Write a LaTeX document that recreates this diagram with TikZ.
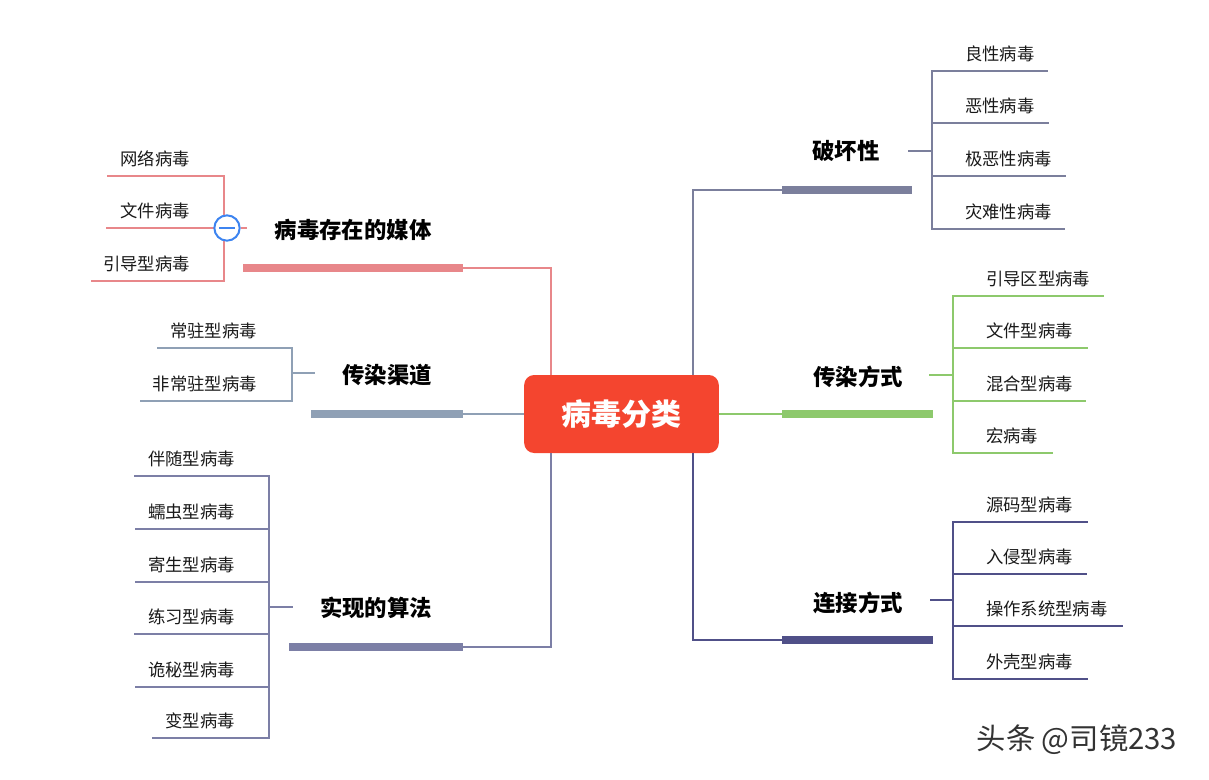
\documentclass[tikz,border=0pt]{standalone}
\usepackage{fontspec}
\newfontfamily\cjk{Noto Sans CJK SC}
\usetikzlibrary{positioning, calc}

\definecolor{rootred}{HTML}{F4452F}
\definecolor{mediapink}{HTML}{E8878A}
\definecolor{chanblue}{HTML}{8FA0B5}
\definecolor{algoblue}{HTML}{7C7FA6}
\definecolor{destgray}{HTML}{7B7F9C}
\definecolor{spreadgreen}{HTML}{8DC96C}
\definecolor{linknavy}{HTML}{505088}
\definecolor{foldblue}{HTML}{3D84F0}

\begin{document}
\begin{tikzpicture}[
    x=0.75pt, y=-0.75pt,
    root/.style={fill=rootred, rounded corners=7.5pt, minimum width=146pt, minimum height=58.5pt, text=white, font=\cjk\bfseries\fontsize{22.5}{26}\selectfont},
    topic/.style={inner sep=0pt, font=\cjk\bfseries\fontsize{16.8}{20}\selectfont},
    leaf/.style={inner sep=0pt, text=black!90, font=\cjk\fontsize{13}{16}\selectfont},
    bar/.style={line width=6pt},
    link/.style={line width=1.8pt},
    twig/.style={line width=2.1pt, line cap=rect},
    fold/.style={draw=foldblue, fill=white, circle, line width=1.5pt, minimum size=19pt, inner sep=0pt}
]

\useasboundingbox (0,0) rectangle (1209,779);

% Root
\node[root] (root) at (621.5,414) {病毒分类};
\coordinate (trunkL) at (551,414);
\coordinate (trunkR) at (693,414);

% Left: media
\coordinate (mA) at (243,268);
\coordinate (mB) at (463,268);
\draw[bar, mediapink] (mA) -- (mB);
\draw[link, mediapink] (mB) -| (root.north -| trunkL);
\node[topic] (media) at (353,230) {病毒存在的媒体};
\draw[twig, mediapink] (224,176) -- (224,281);
\foreach \t/\y/\e [count=\i] in {网络病毒/176/108, 文件病毒/228/107, 引导型病毒/281/92} {
    \coordinate (m\i) at (224,\y);
    \draw[twig, mediapink] (m\i) -- (\e,\y);
    \node[leaf, anchor=east] (mleaf\i) at (190,\y-17) {\t};
}
\node[fold] (mfold) at (227,228) {};
\draw[link, foldblue] ([xshift=4.5pt]mfold.west) -- ([xshift=-4.5pt]mfold.east);
\draw[link, mediapink] (mfold.east) -- (247,228);

% Left: channel
\coordinate (cA) at (311,414);
\coordinate (cB) at (463,414);
\draw[bar, chanblue] (cA) -- (cB);
\draw[link, chanblue] (cB) -- (root.west);
\node[topic] (chan) at (387,375) {传染渠道};
\coordinate (cS) at (292,373);
\draw[link, chanblue] (cS) -- ++(23,0);
\draw[twig, chanblue] (292,348) -- (292,401);
\foreach \t/\y/\e [count=\i] in {常驻型病毒/348/158, 非常驻型病毒/401/141} {
    \coordinate (c\i) at (292,\y);
    \draw[twig, chanblue] (c\i) -- (\e,\y);
    \node[leaf, anchor=east] (cleaf\i) at (257,\y-17) {\t};
}

% Left: algorithm
\coordinate (aA) at (289,647);
\coordinate (aB) at (463,647);
\draw[bar, algoblue] (aA) -- (aB);
\draw[link, algoblue] (aB) -| (root.south -| trunkL);
\node[topic] (algo) at (376,608) {实现的算法};
\coordinate (aS) at (269,607);
\draw[link, algoblue] (aS) -- ++(24,0);
\draw[twig, algoblue] (269,476) -- (269,738);
\foreach \t/\y/\e [count=\i] in {伴随型病毒/476/135, 蠕虫型病毒/529/136, 寄生型病毒/582/136, 练习型病毒/634/135, 诡秘型病毒/687/136, 变型病毒/738/153} {
    \coordinate (a\i) at (269,\y);
    \draw[twig, algoblue] (a\i) -- (\e,\y);
    \node[leaf, anchor=east] (aleaf\i) at (235,\y-17) {\t};
}

% Right: destruction
\coordinate (dA) at (782,190);
\coordinate (dB) at (912,190);
\draw[bar, destgray] (dA) -- (dB);
\draw[link, destgray] (dA) -| (root.north -| trunkR);
\node[topic] (destr) at (846,151) {破坏性};
\coordinate (dS) at (932,151);
\draw[link, destgray] (dS) -- ++(-24,0);
\draw[twig, destgray] (932,71) -- (932,229);
\foreach \t/\y/\e [count=\i] in {良性病毒/71/1047, 恶性病毒/123/1048, 极恶性病毒/176/1065, 灾难性病毒/229/1064} {
    \coordinate (d\i) at (932,\y);
    \draw[twig, destgray] (d\i) -- (\e,\y);
    \node[leaf, anchor=west] (dleaf\i) at (965,\y-17) {\t};
}

% Right: spreading
\coordinate (sA) at (782,414);
\coordinate (sB) at (933,414);
\draw[bar, spreadgreen] (sA) -- (sB);
\draw[link, spreadgreen] (root.east) -- (sA);
\node[topic] (spread) at (858,377) {传染方式};
\coordinate (sS) at (953,375);
\draw[link, spreadgreen] (sS) -- ++(-24,0);
\draw[twig, spreadgreen] (953,296) -- (953,453);
\foreach \t/\y/\e [count=\i] in {引导区型病毒/296/1103, 文件型病毒/348/1087, 混合型病毒/401/1085, 宏病毒/453/1052} {
    \coordinate (s\i) at (953,\y);
    \draw[twig, spreadgreen] (s\i) -- (\e,\y);
    \node[leaf, anchor=west] (sleaf\i) at (986,\y-17) {\t};
}

% Right: linking
\coordinate (lA) at (782,640);
\coordinate (lB) at (933,640);
\draw[bar, linknavy] (lA) -- (lB);
\draw[link, linknavy] (lA) -| (root.south -| trunkR);
\node[topic] (linking) at (858,603) {连接方式};
\coordinate (lS) at (953,600);
\draw[link, linknavy] (lS) -- ++(-23,0);
\draw[twig, linknavy] (953,522) -- (953,679);
\foreach \t/\y/\e [count=\i] in {源码型病毒/522/1087, 入侵型病毒/574/1086, 操作系统型病毒/626/1122, 外壳型病毒/679/1087} {
    \coordinate (l\i) at (953,\y);
    \draw[twig, linknavy] (l\i) -- (\e,\y);
    \node[leaf, anchor=west] (lleaf\i) at (986,\y-17) {\t};
}

% Watermark
\node[text=black!80, font=\cjk\fontsize{22}{26}\selectfont] (mark) at (1077,740) {头条 @司镜233};

\end{tikzpicture}
\end{document}
